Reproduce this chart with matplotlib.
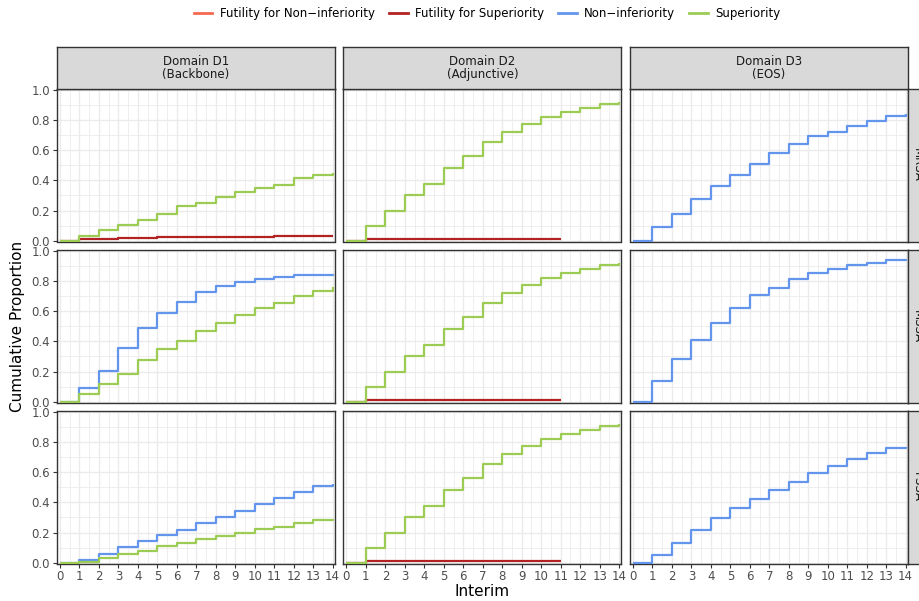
import matplotlib
matplotlib.use("Agg")
import matplotlib.pyplot as plt
from matplotlib.lines import Line2D
import numpy as np

# Interim analyses and facet labels
interim = list(range(15))
domains = ["Domain D1\n(Backbone)", "Domain D2\n(Adjunctive)", "Domain D3\n(EOS)"]
pathogens = ["MRSA", "MSSA", "PSSA"]
outcomes = ["Futility for Non\u2212inferiority", "Futility for Superiority",
            "Non\u2212inferiority", "Superiority"]
colours = ["#F4694F", "#B22222", "#6495ED", "#9DCC55"]

# Cumulative proportion of trials stopping, by interim
d1_mrsa_fut_sup = [0, 0.008, 0.012, 0.016, 0.019, 0.022, 0.024, 0.025, 0.026,
                   0.027, 0.027, 0.028, 0.029, 0.030, 0.030]
d1_mrsa_sup = [0, 0.029, 0.069, 0.102, 0.136, 0.180, 0.227, 0.253, 0.291,
               0.322, 0.351, 0.373, 0.416, 0.433, 0.450]
d1_mssa_noninf = [0, 0.091, 0.204, 0.356, 0.489, 0.587, 0.662, 0.727, 0.767,
                  0.798, 0.816, 0.827, 0.840, 0.844, 0.847]
d1_mssa_sup = [0, 0.053, 0.118, 0.184, 0.276, 0.353, 0.402, 0.469, 0.524,
               0.573, 0.622, 0.658, 0.704, 0.733, 0.764]
d1_pssa_noninf = [0, 0.015, 0.055, 0.104, 0.142, 0.181, 0.217, 0.265, 0.301,
                  0.345, 0.389, 0.431, 0.467, 0.507, 0.524]
d1_pssa_sup = [0, 0.007, 0.031, 0.055, 0.080, 0.111, 0.133, 0.160, 0.178,
               0.198, 0.222, 0.240, 0.262, 0.282, 0.293]
d2_fut_sup = [0, 0.008, 0.009, 0.010, 0.010, 0.010, 0.011, 0.011, 0.011,
              0.011, 0.011, 0.011]
d2_sup = [0, 0.095, 0.194, 0.300, 0.374, 0.485, 0.565, 0.653, 0.722,
          0.773, 0.819, 0.857, 0.883, 0.910, 0.919]
d3_mrsa_noninf = [0, 0.091, 0.180, 0.274, 0.361, 0.437, 0.506, 0.581, 0.641,
                  0.697, 0.724, 0.762, 0.795, 0.828, 0.844]
d3_mssa_noninf = [0, 0.140, 0.284, 0.407, 0.522, 0.622, 0.707, 0.756, 0.816,
                  0.853, 0.882, 0.907, 0.922, 0.940, 0.947]
d3_pssa_noninf = [0, 0.051, 0.131, 0.218, 0.298, 0.360, 0.422, 0.484, 0.538,
                  0.596, 0.640, 0.687, 0.727, 0.760, 0.769]

# (row, col) -> {outcome index: values}
panels = {
    (0, 0): {1: d1_mrsa_fut_sup, 3: d1_mrsa_sup},
    (1, 0): {2: d1_mssa_noninf, 3: d1_mssa_sup},
    (2, 0): {2: d1_pssa_noninf, 3: d1_pssa_sup},
    (0, 1): {1: d2_fut_sup, 3: d2_sup},
    (1, 1): {1: d2_fut_sup, 3: d2_sup},
    (2, 1): {1: d2_fut_sup, 3: d2_sup},
    (0, 2): {2: d3_mrsa_noninf},
    (1, 2): {2: d3_mssa_noninf},
    (2, 2): {2: d3_pssa_noninf},
}

W, H = 920, 601
fig = plt.figure(figsize=(W / 100, H / 100), dpi=100)
fig.patch.set_facecolor("white")

col_left = [57, 343.5, 630]
row_top = [89, 250, 411]
pw, ph = 278, 152.5
border = "#333333"
grid_col = "#EBEBEB"
tick_col = "#4D4D4D"


def px_axes(x, y, w, h):
    return fig.add_axes([x / W, 1 - (y + h) / H, w / W, h / H])


def strip_box(ax):
    ax.set_xticks([])
    ax.set_yticks([])
    ax.set_facecolor("#D9D9D9")
    for s in ax.spines.values():
        s.set_color(border)
        s.set_linewidth(1.0)


for r in range(3):
    for c in range(3):
        ax = px_axes(col_left[c], row_top[r], pw, ph)
        ax.set_xlim(-0.15, 14.12)
        ax.set_ylim(-0.006, 1.008)
        ax.set_xticks(range(0, 15))
        ax.set_xticks(np.arange(0.5, 14, 1), minor=True)
        ax.set_yticks(np.arange(0, 1.01, 0.2))
        ax.set_yticks(np.arange(0.1, 1.0, 0.2), minor=True)
        ax.grid(which="major", color=grid_col, linewidth=1.0)
        ax.grid(which="minor", color=grid_col, linewidth=0.6)
        ax.set_axisbelow(True)
        for s in ax.spines.values():
            s.set_color(border)
            s.set_linewidth(1.0)
        ax.tick_params(which="major", length=3, width=0.8, color=border,
                       labelsize=8.5, labelcolor=tick_col, pad=2)
        ax.tick_params(which="minor", length=0)
        if c == 0:
            ax.set_yticklabels(["0.0", "0.2", "0.4", "0.6", "0.8", "1.0"])
        else:
            ax.tick_params(axis="y", which="major", length=0, labelleft=False)
        if r == 2:
            ax.set_xticklabels([str(i) for i in interim])
        else:
            ax.tick_params(axis="x", which="major", length=0, labelbottom=False)

        for k in sorted(panels[(r, c)]):
            vals = panels[(r, c)][k]
            ax.step(interim[:len(vals)], vals, where="post", color=colours[k],
                    linewidth=1.6, solid_capstyle="butt", zorder=3 + k)

        # facet strips
        if r == 0:
            sax = px_axes(col_left[c], 47, pw, 42)
            strip_box(sax)
            sax.text(0.5, 0.5, domains[c], ha="center", va="center",
                     fontsize=8.5, color="#1A1A1A", linespacing=1.0,
                     transform=sax.transAxes)
        if c == 2:
            rax = px_axes(908, row_top[r], 20, ph)
            strip_box(rax)
            fig.text(917.5 / W, 1 - (row_top[r] + ph / 2) / H, pathogens[r],
                     ha="center", va="center", rotation=-90, fontsize=8.5,
                     color="#1A1A1A")

fig.text(18 / W, 1 - 326 / H, "Cumulative Proportion", rotation=90,
         ha="center", va="center", fontsize=11)
fig.text(482 / W, 1 - 592 / H, "Interim", ha="center", va="center",
         fontsize=11)

handles = [Line2D([0], [0], color=col, linewidth=2) for col in colours]
fig.legend(handles, outcomes, loc="center", ncol=4, frameon=False,
           bbox_to_anchor=(487 / W, 1 - 14 / H), fontsize=8.5,
           handlelength=1.6, handletextpad=0.6, columnspacing=1.2)

fig.savefig("out.png", dpi=100, facecolor="white")
